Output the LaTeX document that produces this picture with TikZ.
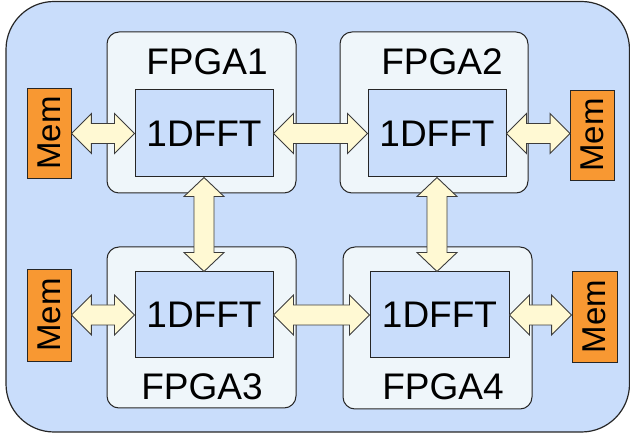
\documentclass[tikz,border=0pt]{standalone}
\usepackage{fontspec}
\setmainfont{Liberation Sans}
\usetikzlibrary{calc}
\definecolor{bgblue}{RGB}{201,221,251}
\definecolor{fpgafill}{RGB}{239,246,250}
\definecolor{memorange}{RGB}{248,152,50}
\definecolor{arrowfill}{RGB}{255,249,211}
\definecolor{arrowline}{RGB}{60,60,60}
\tikzset{
  outerbox/.style={draw=black!85, line width=1.2pt, fill=bgblue, rounded corners=48pt},
  fpgabox/.style={draw=black!85, line width=1pt, fill=fpgafill, rounded corners=12pt, inner sep=0pt},
  fftbox/.style={draw=black!85, line width=1pt, fill=bgblue, inner sep=0pt, font=\fontsize{37}{37}\selectfont},
  membox/.style={draw=black!85, line width=0.8pt, fill=memorange, inner sep=0pt, minimum width=44pt, minimum height=90pt},
  memtext/.style={rotate=90, font=\fontsize{33}{33}\selectfont, inner sep=0pt},
  lbl/.style={font=\fontsize{37}{37}\selectfont, inner sep=0pt},
  blockarrow/.style={draw=arrowline, line width=0.9pt, fill=arrowfill, line join=miter}
}
\newcommand\harrowdbl[2]{%
  \draw[blockarrow] let \p1=(#1), \p2=(#2) in
    (\x1,\y1) -- (\x1+20pt,\y1+20pt) -- (\x1+20pt,\y1+10pt) -- (\x2-20pt,\y1+10pt)
    -- (\x2-20pt,\y1+20pt) -- (\x2,\y1) -- (\x2-20pt,\y1-20pt) -- (\x2-20pt,\y1-10pt)
    -- (\x1+20pt,\y1-10pt) -- (\x1+20pt,\y1-20pt) -- cycle;}
\newcommand\varrowdbl[2]{%
  \draw[blockarrow] let \p1=(#1), \p2=(#2) in
    (\x1,\y1) -- (\x1+20pt,\y1-19pt) -- (\x1+10pt,\y1-19pt) -- (\x1+10pt,\y2+19pt)
    -- (\x1+20pt,\y2+19pt) -- (\x1,\y2) -- (\x1-20pt,\y2+19pt) -- (\x1-10pt,\y2+19pt)
    -- (\x1-10pt,\y1-19pt) -- (\x1-20pt,\y1-19pt) -- cycle;}
\begin{document}
\begin{tikzpicture}[x=1pt,y=-1pt]
\useasboundingbox (0,0) rectangle (630,435);
\draw[outerbox] (6,1.5) rectangle (629.5,432);
% FPGA boxes
\node[fpgabox, minimum width=189pt, minimum height=161pt] (f1) at (201.5,112.5) {};
\node[fpgabox, minimum width=188pt, minimum height=161pt] (f2) at (434,112.5) {};
\node[fpgabox, minimum width=189pt, minimum height=161pt] (f3) at (201.5,327.5) {};
\node[fpgabox, minimum width=189pt, minimum height=162pt] (f4) at (437.5,328) {};
% labels
\node[lbl] (l1) at (207,62) {FPGA1};
\node[lbl] (l2) at (442,62) {FPGA2};
\node[lbl] (l3) at (202,387) {FPGA3};
\node[lbl] (l4) at (443,387) {FPGA4};
% FFT boxes
\node[fftbox, minimum width=138pt, minimum height=87pt] (d1) at (204,133.5) {1DFFT};
\node[fftbox, minimum width=138pt, minimum height=87pt] (d2) at (437,133.5) {1DFFT};
\node[fftbox, minimum width=138pt, minimum height=86pt] (d3) at (204,315) {1DFFT};
\node[fftbox, minimum width=139pt, minimum height=86pt] (d4) at (439.5,315) {1DFFT};
% Mem boxes
\node[membox] (m1) at (49,133) {};
\node[memtext] at (m1) {Mem};
\node[membox, minimum height=90pt] (m2) at (592.5,135) {};
\node[memtext] at (m2) {Mem};
\node[membox, minimum height=92pt] (m3) at (49,315) {};
\node[memtext] at (m3) {Mem};
\node[membox, minimum width=45pt, minimum height=91pt] (m4) at (594.5,316.5) {};
\node[memtext] at (m4) {Mem};
% arrows
\harrowdbl{m1.east |- d1.west}{d1.west}
\harrowdbl{d1.east}{d2.west}
\harrowdbl{d2.east}{m2.west |- d2.east}
\harrowdbl{m3.east |- d3.west}{d3.west}
\harrowdbl{d3.east}{d4.west}
\harrowdbl{d4.east}{m4.west |- d4.east}
\varrowdbl{d1.south}{d3.north}
\varrowdbl{d2.south}{d2.south |- d4.north}
\end{tikzpicture}
\end{document}
